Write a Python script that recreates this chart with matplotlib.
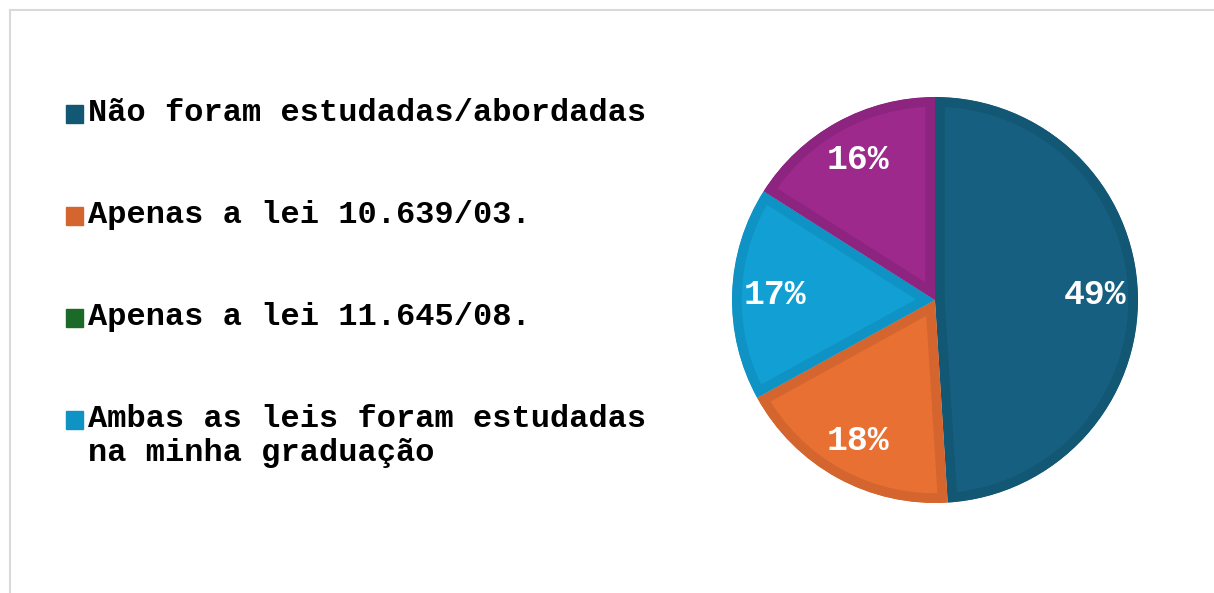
import matplotlib.pyplot as plt
from matplotlib.lines import Line2D
from matplotlib.patches import Rectangle

# Data
categories = ["Não foram estudadas/abordadas",
              "Apenas a lei 10.639/03.",
              "Apenas a lei 11.645/08.",
              "Ambas as leis foram estudadas\nna minha graduação",
              ""]
shares = [49, 18, 0, 17, 16]
colors = ["#175f80", "#e87033", "#1e6b2a", "#12a0d4", "#9e298d"]
edge_colors = ["#125773", "#d4652e", "#1b6a27", "#0f92c4", "#8c2480"]

plt.rcParams["font.family"] = ["Liberation Mono", "DejaVu Sans Mono"]

W, H = 1214, 593
fig = plt.figure(figsize=(W / 100, H / 100), dpi=100)

# light frame on top and left
fig.add_artist(Line2D([10 / W, 10 / W], [0, 1 - 10 / H], transform=fig.transFigure,
                      color="#d9d9d9", lw=1.5))
fig.add_artist(Line2D([10 / W, 1], [1 - 10 / H, 1 - 10 / H], transform=fig.transFigure,
                      color="#d9d9d9", lw=1.5))

# pie
cx, cy, r = 935, 300, 203
ax = fig.add_axes([(cx - r) / W, (H - cy - r) / H, 2 * r / W, 2 * r / H])
wedges, texts, autotexts = ax.pie(
    shares, colors=colors, startangle=90, counterclock=False, radius=1,
    autopct=lambda p: f"{p:.0f}%" if p > 0 else "", pctdistance=0.79,
    textprops=dict(color="white", fontsize=25, fontweight="bold"))
for w, ec, s in zip(wedges, edge_colors, shares):
    w.set_edgecolor(ec)
    w.set_linewidth(14 if s > 0 else 0)
    w.set_clip_on(True)
    w.set_clip_path(w)
ax.set_xlim(-1, 1)
ax.set_ylim(-1, 1)
ax.set_aspect("equal")
ax.axis("off")

# legend drawn by hand
baselines = [121, 223, 325, 427]
line_step = 34
for label, col, yb in zip(categories[:4], edge_colors[:4], baselines):
    fig.add_artist(Rectangle((66 / W, (H - yb - 2) / H), 17 / W, 18 / H,
                             transform=fig.transFigure, color=col))
    for i, line in enumerate(label.split("\n")):
        fig.text(88 / W, (H - yb - i * line_step) / H, line, fontsize=23,
                 fontweight="bold", va="baseline", ha="left", color="black")

fig.savefig("out.png", dpi=100)
